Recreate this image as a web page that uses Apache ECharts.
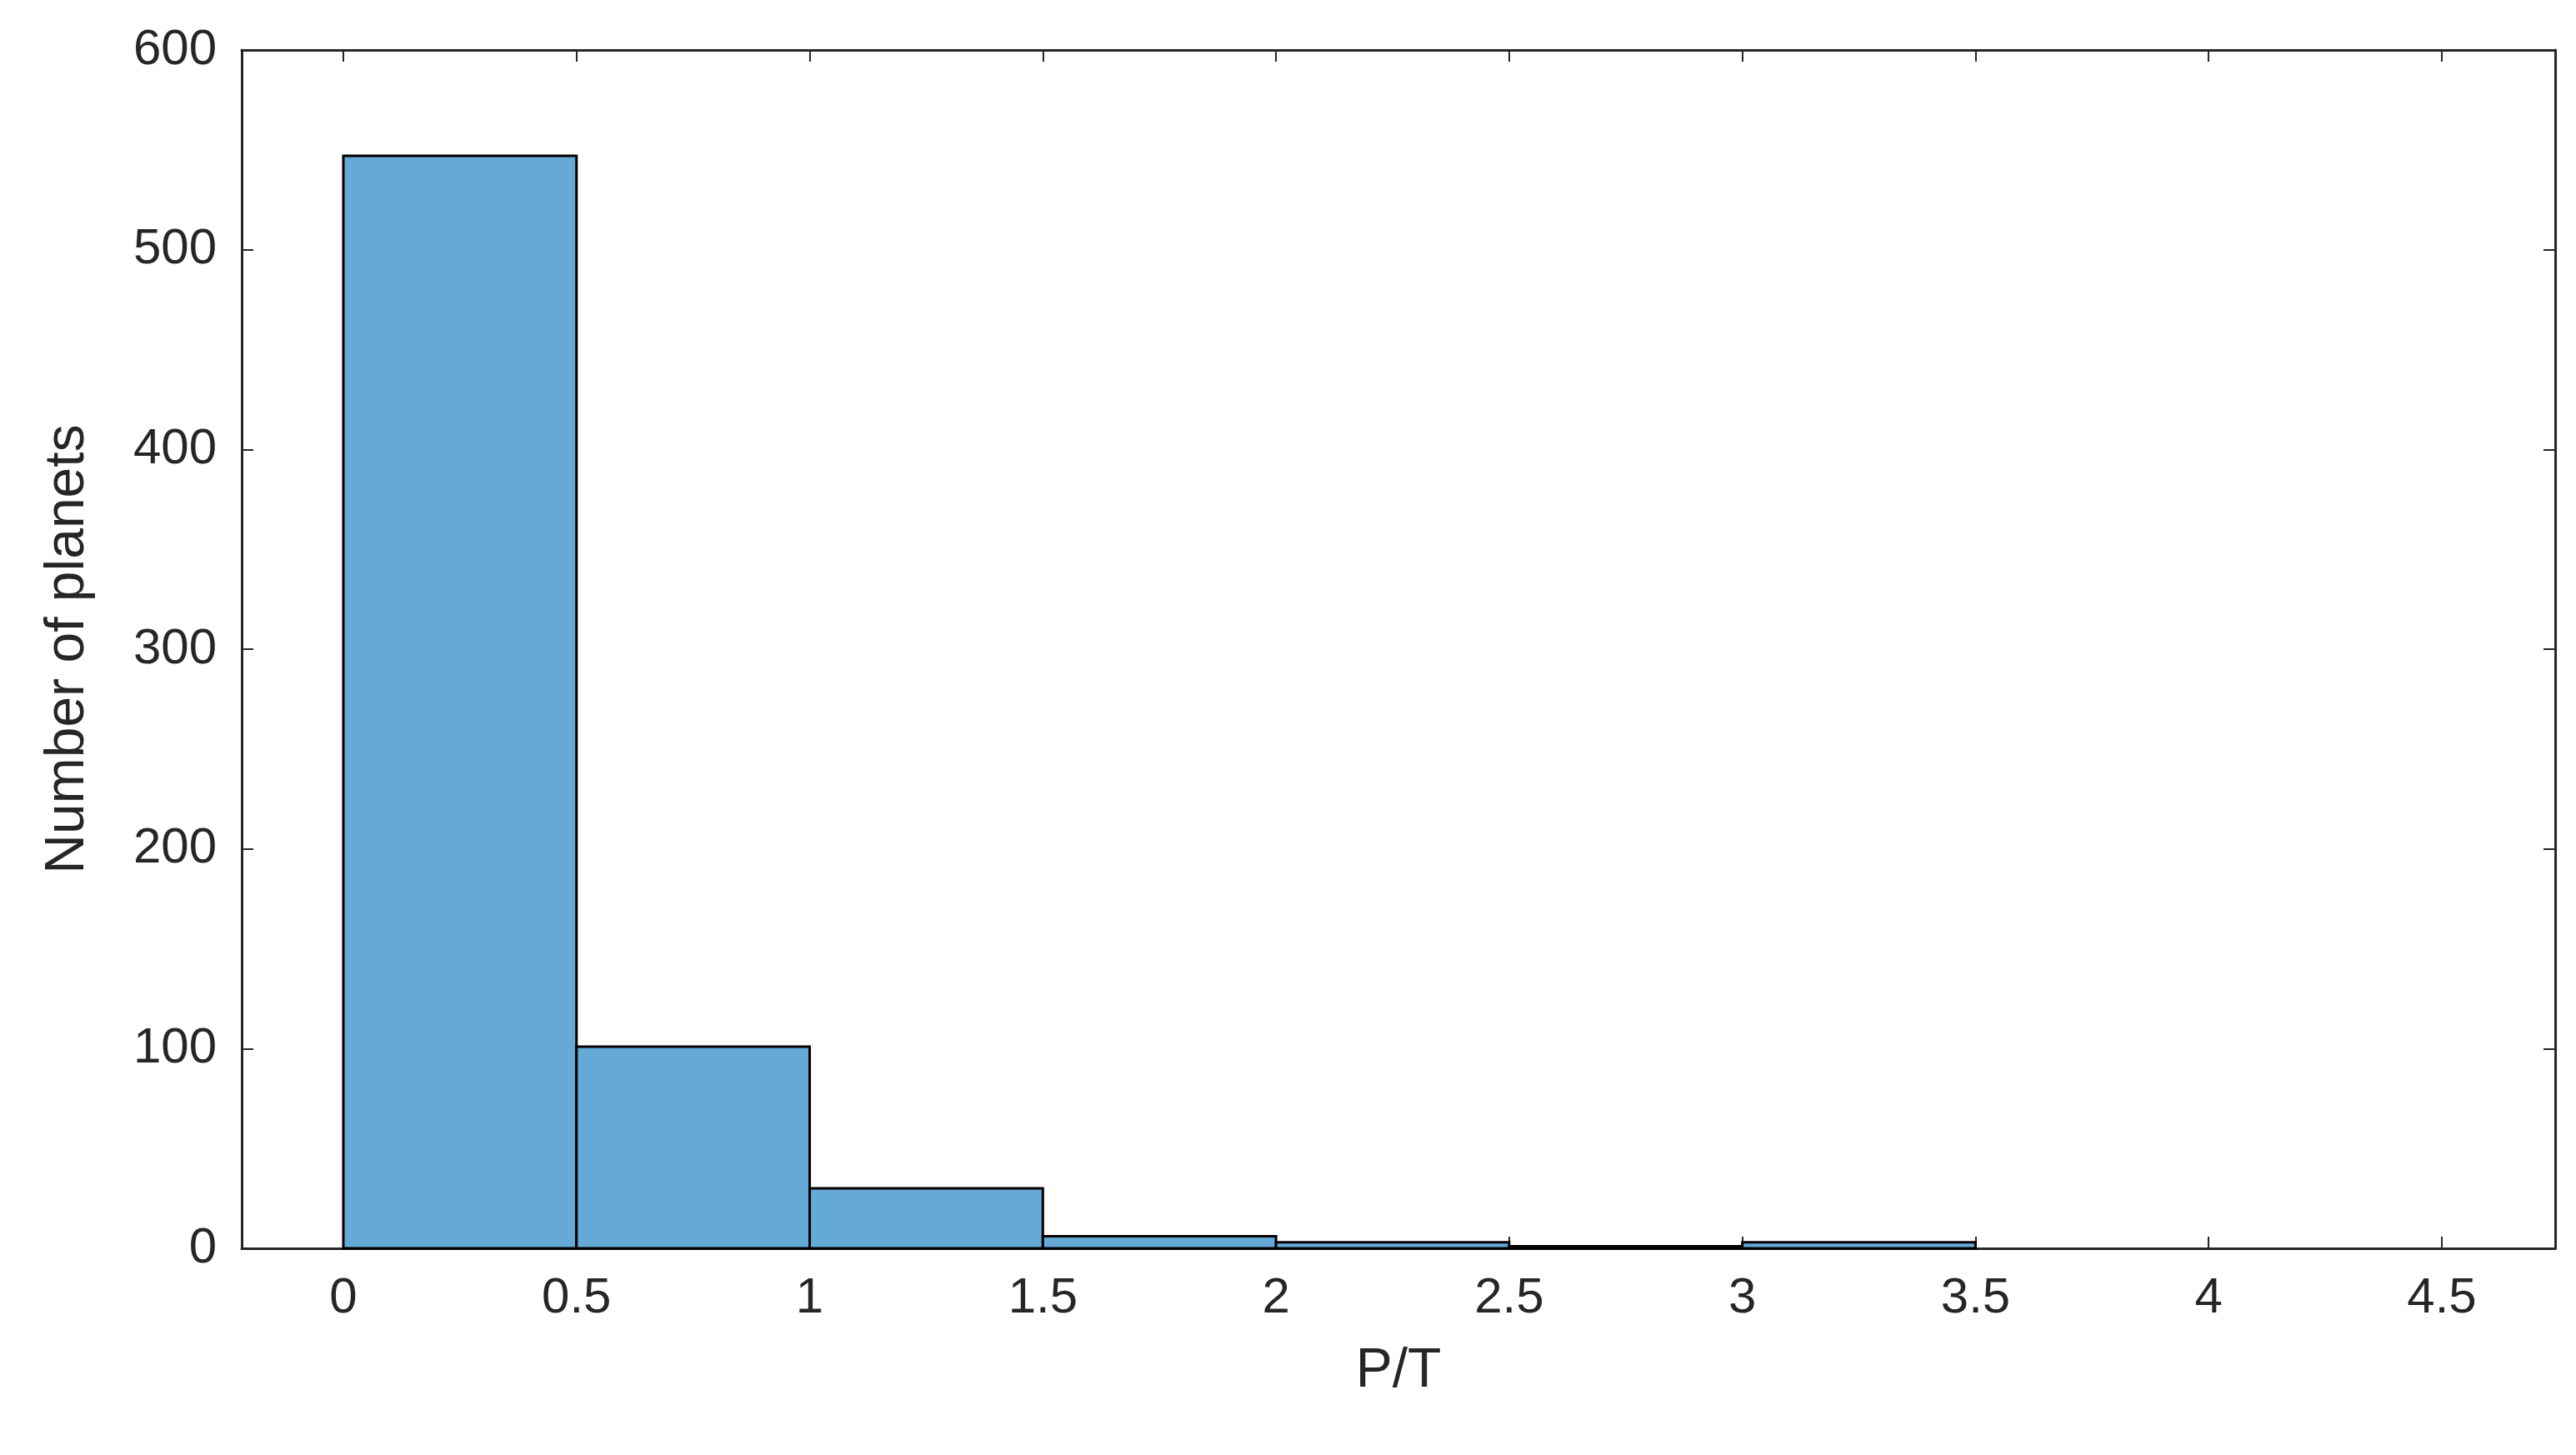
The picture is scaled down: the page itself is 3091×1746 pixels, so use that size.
<!DOCTYPE html>
<html>
<head>
<meta charset="UTF-8">
<script src="https://cdn.jsdelivr.net/npm/echarts@6/dist/echarts.min.js"></script>
<style>html,body{margin:0;background:#fff}#main{width:3091px;height:1746px}</style>
</head>
<body>
<div id="main"></div>
<script>
var binStart = [0, 0.5, 1, 1.5, 2, 2.5, 3, 3.5, 4];
var binEnd   = [0.5, 1, 1.5, 2, 2.5, 3, 3.5, 4, 4.5];
var counts   = [547, 101, 30, 6, 3, 1, 3, 0, 0];
var xTicks = [0, 0.5, 1, 1.5, 2, 2.5, 3, 3.5, 4, 4.5];

var data = [];
for (var i = 0; i < counts.length; i++) {
    if (counts[i] > 0) data.push([binStart[i], binEnd[i], counts[i]]);
}
var font = 'Liberation Sans';
var chart = echarts.init(document.getElementById('main'));
var axisCommon = {
    axisLine: {show: true, onZero: false, lineStyle: {color: '#262626', width: 3}},
    axisTick: {show: true, inside: true, length: 14, lineStyle: {color: '#262626', width: 2}},
    splitLine: {show: false}
};
chart.setOption({
    animation: false,
    grid: {left: 290, right: 25, top: 60, bottom: 248},
    xAxis: [
        Object.assign({
            type: 'value', min: -0.218, max: 4.743, position: 'bottom',
            name: 'P/T', nameLocation: 'middle', nameGap: 115,
            nameTextStyle: {fontFamily: font, fontSize: 66, color: '#262626'},
            axisLabel: {fontFamily: font, fontSize: 60, color: '#262626', margin: 30,
                customValues: xTicks},
        }, axisCommon, {axisTick: Object.assign({}, axisCommon.axisTick, {customValues: xTicks})}),
        Object.assign({
            type: 'value', min: -0.218, max: 4.743, position: 'top',
            axisLabel: {show: false}
        }, axisCommon, {axisTick: Object.assign({}, axisCommon.axisTick, {customValues: xTicks})})
    ],
    yAxis: [
        Object.assign({
            type: 'value', min: 0, max: 600, interval: 100, position: 'left',
            name: 'Number of planets', nameLocation: 'middle', nameGap: 175,
            nameTextStyle: {fontFamily: font, fontSize: 66, color: '#262626'},
            axisLabel: {fontFamily: font, fontSize: 60, color: '#262626', margin: 30}
        }, axisCommon),
        Object.assign({
            type: 'value', min: 0, max: 600, interval: 100, position: 'right',
            axisLabel: {show: false}
        }, axisCommon)
    ],
    series: [{
        type: 'custom',
        xAxisIndex: 0, yAxisIndex: 0,
        data: data,
        renderItem: function (params, api) {
            var p0 = api.coord([api.value(0), 0]);
            var p1 = api.coord([api.value(1), api.value(2)]);
            return {
                type: 'rect',
                shape: {x: p0[0], y: p1[1], width: p1[0] - p0[0], height: p0[1] - p1[1]},
                style: {fill: '#65a9d7', stroke: '#000', lineWidth: 3}
            };
        }
    }]
});
</script>
</body>
</html>
